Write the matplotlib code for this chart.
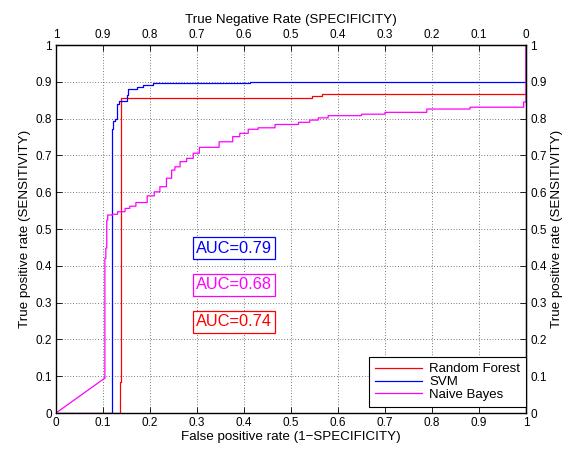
import matplotlib.pyplot as plt
import numpy as np

plt.rcParams['font.family'] = ['Liberation Sans', 'DejaVu Sans']
plt.rcParams['font.size'] = 8.5

# ROC breakpoints (post-step)
rf_fpr = [0, 0.136, 0.138, 0.544, 0.566, 1.0]
rf_tpr = [0, 0.085, 0.855, 0.861, 0.868, 1.0]

svm_fpr = [0, 0.120, 0.122, 0.126, 0.129, 0.134, 0.150, 0.154, 0.172, 0.186, 0.207, 0.413, 1.0]
svm_tpr = [0, 0.771, 0.794, 0.800, 0.840, 0.848, 0.864, 0.880, 0.885, 0.890, 0.897, 0.900, 1.0]

nb_fpr = [0.103, 0.104, 0.106, 0.108, 0.110, 0.120, 0.131, 0.147, 0.157, 0.170, 0.194, 0.209,
          0.221, 0.235, 0.246, 0.253, 0.264, 0.278, 0.292, 0.305, 0.347, 0.376, 0.391, 0.409,
          0.430, 0.466, 0.516, 0.540, 0.558, 0.579, 0.650, 0.700, 0.789, 0.881, 0.995, 1.0]
nb_tpr = [0.094, 0.420, 0.448, 0.524, 0.538, 0.540, 0.547, 0.556, 0.562, 0.572, 0.590, 0.601,
          0.615, 0.638, 0.660, 0.669, 0.683, 0.692, 0.706, 0.722, 0.737, 0.751, 0.760, 0.771,
          0.775, 0.784, 0.790, 0.796, 0.802, 0.808, 0.812, 0.817, 0.826, 0.831, 0.845, 1.0]

auc_labels = ['AUC=0.79', 'AUC=0.68', 'AUC=0.74']
auc_colors = ['#0000ff', '#ff00ff', '#ff0000']
auc_y = [0.448, 0.348, 0.248]

ticks = np.arange(0, 1.01, 0.1)
tick_labels = ['0', '0.1', '0.2', '0.3', '0.4', '0.5', '0.6', '0.7', '0.8', '0.9', '1']


def stairs(x, y, start=None):
    xs, ys = [], []
    if start is not None:
        xs.append(start[0]); ys.append(start[1])
    for i in range(len(x)):
        if i > 0:
            xs.append(x[i]); ys.append(y[i - 1])
        xs.append(x[i]); ys.append(y[i])
    return xs, ys


fig = plt.figure(figsize=(5.62, 4.49), dpi=100)
ax = fig.add_axes([56 / 562, 36 / 449, 470 / 562, 368 / 449])
ax.set_axisbelow(True)

x, y = stairs(rf_fpr, rf_tpr)
ax.plot(x, y, color='#ff0000', linewidth=0.9, label='Random Forest')
x, y = stairs(svm_fpr, svm_tpr)
ax.plot(x, y, color='#0000ff', linewidth=0.9, label='SVM')
x, y = stairs(nb_fpr, nb_tpr, start=(0, 0))
ax.plot(x, y, color='#ff00ff', linewidth=0.9, label='Naive Bayes')

for lab, c, yy in zip(auc_labels, auc_colors, auc_y):
    ax.text(0.298, yy, lab, color=c, fontsize=11.8, va='center', ha='left',
            bbox=dict(boxstyle='square,pad=0.2', facecolor='white', edgecolor=c, linewidth=0.9))

ax.set_xlim(0, 1)
ax.set_ylim(0, 1)
ax.set_xticks(ticks)
ax.set_yticks(ticks)
ax.set_xticklabels(tick_labels)
ax.set_yticklabels(tick_labels)
ax.grid(True, color='k', linestyle=(0, (1, 3)), linewidth=0.5)
ax.tick_params(direction='in', length=4, width=0.6, pad=3)
for s in ax.spines.values():
    s.set_linewidth(1.0)
ax.set_xlabel('False positive rate (1\u2212SPECIFICITY)', fontsize=9.6, labelpad=1)
ax.set_ylabel('True positive rate (SENSITIVITY)', fontsize=9.6, labelpad=3)

top = ax.secondary_xaxis('top', functions=(lambda v: 1 - v, lambda v: 1 - v))
top.set_xticks(ticks)
top.set_xticklabels(tick_labels)
top.tick_params(direction='in', length=4, width=0.6, pad=3)
top.set_xlabel('True Negative Rate (SPECIFICITY)', fontsize=9.6, labelpad=4)

right = ax.secondary_yaxis('right')
right.set_yticks(ticks)
right.set_yticklabels(tick_labels)
right.tick_params(direction='in', length=4, width=0.6, pad=3)
right.set_ylabel('True positive rate (SENSITIVITY)', fontsize=9.6, labelpad=3)

leg = ax.legend(loc='lower right', bbox_to_anchor=(1.0, 6 / 368), fontsize=9.5,
                fancybox=False, framealpha=1, edgecolor='k', borderaxespad=0,
                handlelength=3.6, labelspacing=0.05, borderpad=0.45, handletextpad=0.5)
leg.get_frame().set_linewidth(0.8)

fig.savefig('out.png', dpi=100)
